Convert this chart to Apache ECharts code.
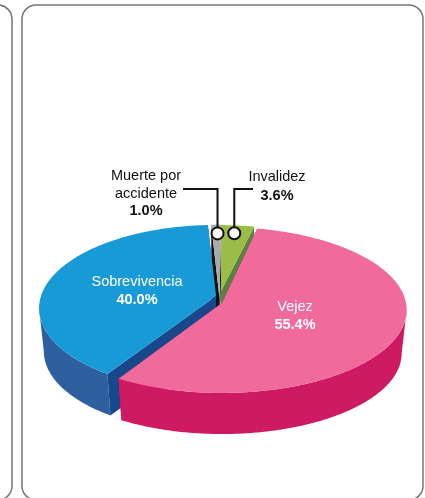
<!DOCTYPE html>
<html>
<head>
<meta charset="utf-8">
<style>html,body{margin:0;padding:0;background:#fff}#c{width:425px;height:498px}</style>
<script src="https://cdn.jsdelivr.net/npm/echarts@6/dist/echarts.min.js"></script>
</head>
<body>
<div id="c"></div>
<script>
const categories = ['Vejez', 'Sobrevivencia', 'Muerte por\naccidente', 'Invalidez'];
const values = [55.4, 40.0, 1.0, 3.6];
const startAngle = 12;

// Look of each slice: centre, radii, perspective, small rotation, colours and label placement
const looks = [
  {cx:222, cy:303, rx:184, ry:82.4, k:.084, rot:0,   top:'#f06a9b', wall:'#ce1a62', cut:'#ce1a62', lx:295, ly:307, lh:17.5, color:'#fff'},
  {cx:216, cy:296, rx:175, ry:81.5, k:.147, rot:1.5, top:'#189ad6', wall:'#2e5f9e', cut:'#17498a', lx:137, ly:282, lh:17.5, color:'#fff'},
  {cx:219.5, cy:298, rx:180, ry:82, k:.12, rot:1.6,  top:'#a7a9ac', wall:'#111111', cut:'#111111', lx:146, ly:175.5, lh:17.5, color:'#111', hx:183, hy:189, markAt:.6},
  {cx:221, cy:291, rx:162, ry:72.5, k:.1, rot:1,     top:'#9bbd48', wall:'#5b8040', cut:'#5b8040', lx:277, ly:177, lh:19, color:'#111', hx:253, hy:189, markAt:.45}
];
const drawOrder = [2, 3, 1, 0];
const DEPTH = 43.5, SHRINK = 0.973;
const total = values.reduce((a, b) => a + b, 0);

// Angular span of each slice, clockwise from twelve o'clock
let acc = startAngle;
const spans = values.map((v, i) => {
  const a = acc + looks[i].rot, b = acc + v / total * 360 + looks[i].rot;
  acc += v / total * 360;
  return [a, b];
});

function pt(l, deg, frac, low) {
  const t = deg * Math.PI / 180, u = Math.sin(t) * frac, v = -Math.cos(t) * frac;
  const w = 1 - l.k * v, s = low ? SHRINK : 1;
  return [l.cx + l.rx * u / w * s, l.cy + l.ry * v / w * s + (low ? DEPTH : 0)];
}
function arc(l, a, b, low) {
  const out = [], n = Math.max(4, Math.ceil(Math.abs(b - a) * 1.5));
  for (let i = 0; i <= n; i++) out.push(pt(l, a + (b - a) * i / n, 1, low));
  return out;
}
function poly(points, fill) {
  return {type: 'polygon', shape: {points}, style: {fill}};
}
function renderSlice(params) {
  const i = drawOrder[params.dataIndex], l = looks[i], a = spans[i][0], b = spans[i][1];
  const kids = [];
  const apex = [l.cx, l.cy], apexLow = [l.cx, l.cy + DEPTH];
  // walls: only the part of the rim on the near side
  const right = 90 + Math.asin(l.k) * 180 / Math.PI, left = 360 - right;
  const from = Math.max(a, right), to = Math.min(b, left);
  if (to > from) kids.push(poly(arc(l, from, to, false).concat(arc(l, from, to, true).reverse()), l.wall));
  // cut faces along both straight edges
  [a, b].forEach(d => kids.push(poly([apex, pt(l, d, 1, false), pt(l, d, 1, true), apexLow], l.cut)));
  // top face
  kids.push(poly([apex].concat(arc(l, a, b, false)), l.top));
  return {type: 'group', children: kids};
}
function renderNote(params) {
  const i = params.dataIndex, l = looks[i], kids = [];
  const lines = categories[i].split('\n');
  const font = '14.5px "Liberation Sans", Arial, sans-serif';
  lines.forEach((t, n) => kids.push({type: 'text', style: {text: t, x: l.lx, y: l.ly + n * 18, align: 'center', verticalAlign: 'middle', fill: l.color, font}}));
  kids.push({type: 'text', style: {text: values[i].toFixed(1) + '%', x: l.lx, y: l.ly + (lines.length - 1) * 18 + l.lh, align: 'center', verticalAlign: 'middle', fill: l.color, font: 'bold ' + font}});
  if (l.hx) {
    const m = pt(l, spans[i][0] + (spans[i][1] - spans[i][0]) * l.markAt, 0.87, false);
    kids.unshift({type: 'polyline', shape: {points: [[l.hx, l.hy], [m[0], l.hy], m]}, style: {fill: 'none', stroke: '#111', lineWidth: 2}});
    kids.push({type: 'circle', shape: {cx: m[0], cy: m[1], r: 6}, style: {fill: '#fff', stroke: '#111', lineWidth: 2}});
  }
  return {type: 'group', children: kids};
}

const chart = echarts.init(document.getElementById('c'), null, {renderer: 'canvas'});
chart.setOption({
  animation: false,
  backgroundColor: '#fff',
  graphic: [
    {type: 'rect', shape: {x: -40, y: 5, width: 52, height: 495, r: 14}, style: {fill: 'none', stroke: '#777', lineWidth: 1.5}, silent: true},
    {type: 'rect', shape: {x: 22, y: 5, width: 401, height: 495, r: 14}, style: {fill: 'none', stroke: '#777', lineWidth: 1.5}, silent: true}
  ],
  series: [
    {type: 'custom', coordinateSystem: 'none', silent: true, z: 2, renderItem: renderSlice, data: drawOrder.map(i => values[i])},
    {type: 'custom', coordinateSystem: 'none', silent: true, z: 3, renderItem: renderNote, data: values}
  ]
});
</script>
</body>
</html>
